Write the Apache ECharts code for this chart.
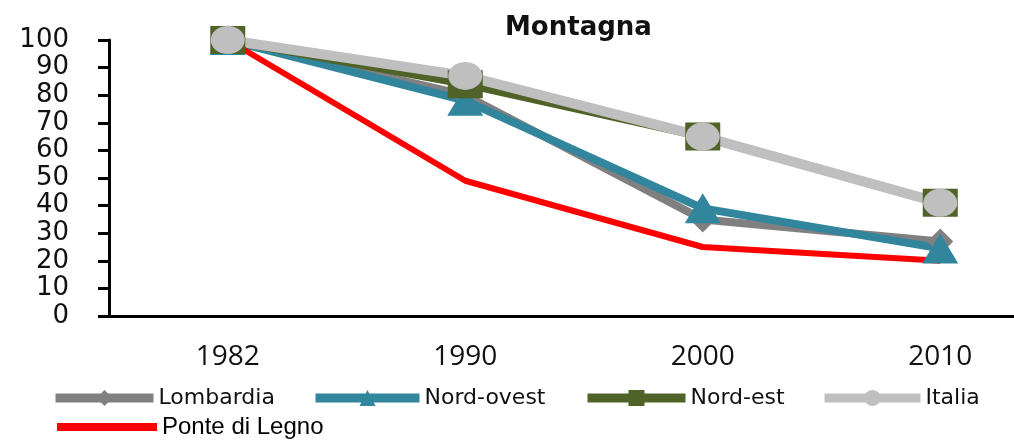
<!DOCTYPE html>
<html>
<head>
<meta charset="utf-8">
<title>Montagna</title>
<script src="https://cdn.jsdelivr.net/npm/echarts@6/dist/echarts.min.js"></script>
<style>
  html, body { margin: 0; padding: 0; background: #fff; }
  #chart { width: 1014px; height: 443px; }
</style>
</head>
<body>
<div id="chart"></div>
<script>
// dati (indice 1982 = 100)
const years = ['1982', '1990', '2000', '2010']
const lombardia = [100, 80, 35, 27]
const nordOvest = [100, 78, 39, 24.5]
const nordEst = [100, 84, 65, 41]
const italia = [100, 87, 65, 41]
const ponteDiLegno = [100, 49, 25, 20]

const chartInstance = echarts.init(document.getElementById('chart'))

const ellipse = 'path://M0,20 A20,20 0 1,1 40,20 A20,20 0 1,1 0,20 Z'

// una legenda per voce, così ogni voce sta dove sta nell'originale
function legendItem (name, left, itemWidth) {
  return {
    data: [name],
    left: left,
    top: 387,
    padding: 0,
    itemWidth: itemWidth,
    itemHeight: 20,
    lineStyle: { width: 9 },
    textStyle: {
      fontFamily: 'DejaVu Sans',
      fontSize: 22,
      color: '#111'
    }
  }
}

const option = {
  animation: false,
  title: {
    text: 'Montagna',
    left: 500,
    top: 10,
    textStyle: {
      fontFamily: 'DejaVu Sans',
      fontWeight: 'bold',
      fontSize: 26,
      color: '#111'
    }
  },
  grid: {
    left: 109,
    width: 950,
    top: 40,
    bottom: 127,
    outerBoundsMode: 'none'
  },
  xAxis: {
    type: 'category',
    data: years,
    axisLine: { lineStyle: { color: '#000', width: 3 } },
    axisTick: { length: 7, lineStyle: { color: '#000', width: 3 } },
    axisLabel: {
      margin: 27,
      fontFamily: 'Open Sans',
      fontSize: 28,
      color: '#111'
    }
  },
  yAxis: {
    type: 'value',
    min: 0,
    max: 100,
    interval: 10,
    splitLine: { show: false },
    axisLine: { show: true, lineStyle: { color: '#000', width: 3 } },
    axisTick: { show: true, length: 11, lineStyle: { color: '#000', width: 3 } },
    axisLabel: {
      margin: 40,
      fontFamily: 'DejaVu Sans',
      fontSize: 26,
      color: '#111'
    }
  },
  legend: [
    legendItem('Lombardia', 51, 98),
    legendItem('Nord-ovest', 311, 104),
    legendItem('Nord-est', 583, 98),
    legendItem('Italia', 820, 96),
    {
      left: 57,
      top: 415,
      padding: 0,
      itemWidth: 100,
      itemHeight: 8,
      textStyle: {
        fontFamily: 'Liberation Sans Narrow, Liberation Sans',
        fontSize: 24,
        color: '#000'
      },
      data: [{ name: 'Ponte di Legno', icon: 'rect' }]
    }
  ],
  series: [
    {
      name: 'Lombardia',
      type: 'line',
      data: lombardia,
      color: '#808080',
      lineStyle: { width: 8 },
      symbol: 'diamond',
      symbolSize: [26, 26]
    },
    {
      name: 'Nord-ovest',
      type: 'line',
      data: nordOvest,
      color: '#31859c',
      lineStyle: { width: 8 },
      symbol: 'triangle',
      symbolSize: [36, 30]
    },
    {
      name: 'Nord-est',
      type: 'line',
      data: nordEst,
      color: '#4f6228',
      lineStyle: { width: 8 },
      symbol: 'rect',
      symbolSize: [35, 28]
    },
    {
      name: 'Italia',
      type: 'line',
      data: italia,
      color: '#bfbfbf',
      lineStyle: { width: 10 },
      symbol: ellipse,
      symbolSize: [34, 28]
    },
    {
      name: 'Ponte di Legno',
      type: 'line',
      data: ponteDiLegno,
      color: '#ff0000',
      lineStyle: { width: 6 },
      symbol: 'none'
    }
  ]
}

chartInstance.setOption(option)
</script>
</body>
</html>
